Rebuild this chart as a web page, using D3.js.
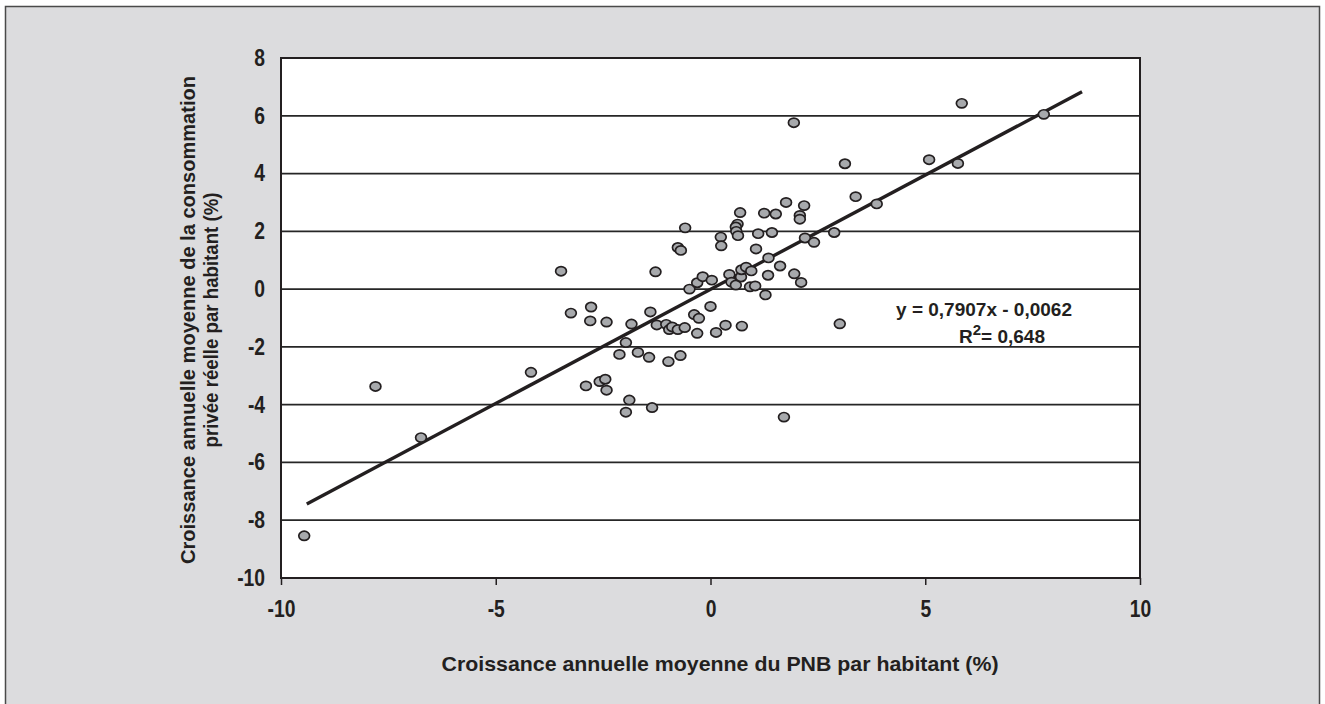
<!DOCTYPE html>
<html>
<head>
<meta charset="utf-8">
<script src="https://cdn.jsdelivr.net/npm/d3@7"></script>
<style>
  body { margin: 0; background: #fff; }
  svg { display: block; }
  text { font-family: "Liberation Sans", Arial, sans-serif; fill: #231f20; }
</style>
</head>
<body>
<svg id="chart" width="1325" height="704"></svg>
<script>
// data (GNP growth vs private consumption growth, % per head)
var gnpGrowth = [
    -9.46, -7.80, -6.74, -4.18, -3.48, -3.25, -2.78, -2.80, -2.42, -2.90,
    -2.58, -2.45, -2.42, -1.84, -1.97, -2.12, -1.69, -1.43, -1.97, -1.89,
    -1.36, -1.40, -1.28, -1.25, -1.03, -0.96, -0.89, -0.76, -0.60, -0.98,
    -0.70, -0.59, -0.76, -0.69, -0.49, -0.31, -0.18, 0.03, -0.38, -0.27,
    -0.31, 0.00, 0.13, 0.35, 0.73, 0.24, 0.25, 0.69, 0.63, 0.59,
    0.60, 0.64, 0.44, 0.49, 0.59, 0.71, 0.72, 0.83, 0.95, 0.92,
    1.04, 1.06, 1.11, 1.25, 1.28, 1.34, 1.35, 1.43, 1.52, 1.62,
    1.71, 1.76, 1.94, 1.95, 2.08, 2.08, 2.11, 2.18, 2.20, 2.41,
    2.88, 3.01, 3.13, 3.38, 3.87, 5.09, 5.76, 5.85, 7.76
];
var consGrowth = [
    -8.54, -3.37, -5.14, -2.88, 0.62, -0.83, -0.62, -1.10, -1.14, -3.35,
    -3.20, -3.12, -3.50, -1.21, -1.85, -2.26, -2.19, -2.36, -4.26, -3.84,
    -4.10, -0.79, 0.60, -1.24, -1.22, -1.40, -1.31, -1.40, -1.33, -2.51,
    -2.30, 2.12, 1.44, 1.34, 0.00, 0.22, 0.43, 0.31, -0.88, -1.01,
    -1.53, -0.60, -1.50, -1.25, -1.28, 1.80, 1.50, 2.65, 2.25, 2.15,
    2.00, 1.85, 0.51, 0.24, 0.14, 0.42, 0.67, 0.76, 0.63, 0.08,
    0.11, 1.39, 1.92, 2.63, -0.20, 0.48, 1.08, 1.96, 2.60, 0.80,
    -4.43, 3.00, 5.76, 0.53, 2.55, 2.42, 0.23, 2.89, 1.77, 1.62,
    1.96, -1.20, 4.34, 3.20, 2.95, 4.48, 4.35, 6.43, 6.05
];

var xTicks = [-10, -5, 0, 5, 10],
    yTicks = [8, 6, 4, 2, 0, -2, -4, -6, -8, -10];

var slope = 0.7907,
    intercept = -0.0062,
    fitRange = [-9.4, 8.65];

var eqLabel = "y = 0,7907x - 0,0062",
    r2Value = "= 0,648";

var xTitle = "Croissance annuelle moyenne du PNB par habitant (%)",
    yTitle = ["Croissance annuelle moyenne de la consommation",
              "privée réelle par habitant (%)"];

// layout
var plot = { left: 281, right: 1140, top: 58, bottom: 578 };

var svg = d3.select('#chart');

// grey frame behind everything
svg.append('rect')
    .attr('x', 5.5).attr('y', 6.5)
    .attr('width', 1314).attr('height', 710)
    .attr('fill', '#dcdcde')
    .attr('stroke', '#4a4a4a')
    .attr('stroke-width', 1.5);

var x = d3.scaleLinear().domain([-10, 10]).range([plot.left, plot.right]);
var y = d3.scaleLinear().domain([-10, 8]).range([plot.bottom, plot.top]);

// plot background
svg.append('rect')
    .attr('x', plot.left).attr('y', plot.top)
    .attr('width', plot.right - plot.left)
    .attr('height', plot.bottom - plot.top)
    .attr('fill', '#fff');

// horizontal gridlines
svg.append('g')
    .selectAll('line')
    .data(yTicks)
    .enter()
    .append('line')
    .attr('x1', plot.left).attr('x2', plot.right)
    .attr('y1', function (d) { return y(d); })
    .attr('y2', function (d) { return y(d); })
    .attr('stroke', '#262626')
    .attr('stroke-width', 1.8);

// plot border
svg.append('rect')
    .attr('x', plot.left).attr('y', plot.top)
    .attr('width', plot.right - plot.left)
    .attr('height', plot.bottom - plot.top)
    .attr('fill', 'none')
    .attr('stroke', '#231f20')
    .attr('stroke-width', 2);

// tick labels are a condensed bold face: squeeze them sideways
function styleTicks(g) {
    g.selectAll('text')
        .attr('font-family', null)
        .attr('font-size', 23)
        .attr('font-weight', 'bold')
        .attr('fill', '#231f20')
        .attr('transform', 'scale(0.84,1)');
}

// x axis
var xAxis = svg.append('g')
    .attr('transform', 'translate(0,' + plot.bottom + ')')
    .call(d3.axisBottom(x).tickValues(xTicks).tickFormat(String)
        .tickSize(7).tickPadding(16));
xAxis.select('.domain').remove();
xAxis.selectAll('line').attr('stroke', '#231f20').attr('stroke-width', 1.5);
styleTicks(xAxis);

// y axis
var yAxis = svg.append('g')
    .attr('transform', 'translate(' + plot.left + ',0)')
    .call(d3.axisLeft(y).tickValues(yTicks).tickFormat(String)
        .tickSize(0).tickPadding(19));
yAxis.select('.domain').remove();
styleTicks(yAxis);

// trend line
svg.append('line')
    .attr('x1', x(fitRange[0]))
    .attr('y1', y(slope * fitRange[0] + intercept))
    .attr('x2', x(fitRange[1]))
    .attr('y2', y(slope * fitRange[1] + intercept))
    .attr('stroke', '#231f20')
    .attr('stroke-width', 3.4);

// points
svg.append('g')
    .selectAll('ellipse')
    .data(d3.zip(gnpGrowth, consGrowth))
    .enter()
    .append('ellipse')
    .attr('cx', function (d) { return x(d[0]); })
    .attr('cy', function (d) { return y(d[1]); })
    .attr('rx', 5.4)
    .attr('ry', 4.6)
    .attr('fill', '#a7a9ac')
    .attr('stroke', '#231f20')
    .attr('stroke-width', 1.7);

// equation
svg.append('text')
    .attr('x', 984).attr('y', 316)
    .attr('text-anchor', 'middle')
    .attr('font-size', 19)
    .attr('font-weight', 'bold')
    .text(eqLabel);

var r2 = svg.append('text')
    .attr('x', 1002).attr('y', 343)
    .attr('text-anchor', 'middle')
    .attr('font-size', 19)
    .attr('font-weight', 'bold');
r2.append('tspan').text('R');
r2.append('tspan').attr('dy', -8).attr('font-size', 15).text('2');
r2.append('tspan').attr('dy', 8).text(r2Value);

// axis titles
svg.append('text')
    .attr('x', 720)
    .attr('y', 671)
    .attr('text-anchor', 'middle')
    .attr('font-size', 21)
    .attr('font-weight', 'bold')
    .attr('textLength', 557)
    .attr('lengthAdjust', 'spacingAndGlyphs')
    .text(xTitle);

var yt = svg.append('text')
    .attr('transform', 'translate(195,' + 320 + ') rotate(-90)')
    .attr('text-anchor', 'middle')
    .attr('font-size', 21)
    .attr('font-weight', 'bold');
yt.selectAll('tspan')
    .data(yTitle)
    .enter()
    .append('tspan')
    .attr('x', 0)
    .attr('dy', function (d, i) { return i == 0 ? 0 : 23; })
    .attr('textLength', function (d, i) { return i == 0 ? 488 : 255; })
    .attr('lengthAdjust', 'spacingAndGlyphs')
    .text(function (d) { return d; });
</script>
</body>
</html>
